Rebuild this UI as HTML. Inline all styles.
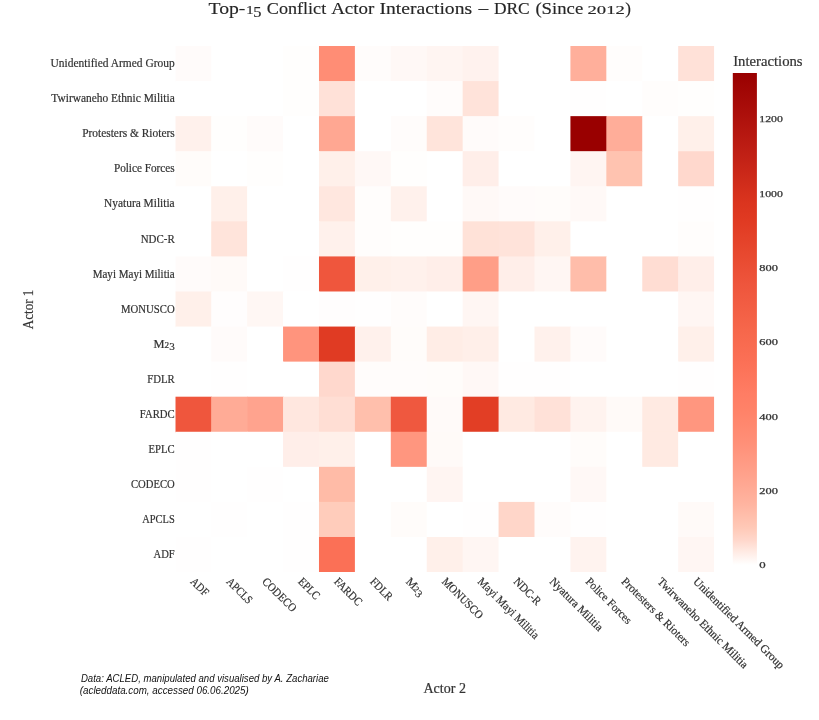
<!DOCTYPE html>
<html lang="en">
<head>
<meta charset="utf-8">
<title>Top-15 Conflict Actor Interactions - DRC</title>
<style>
html,body{margin:0;padding:0;background:#fff;}
body{width:819px;height:720px;overflow:hidden;font-family:"Liberation Serif",serif;}
svg{display:block;}
text{font-family:"Liberation Serif",serif;}
.note{font-family:"Liberation Sans",sans-serif;font-style:italic;}
</style>
</head>
<body>
<svg style="will-change:transform" width="819" height="720" viewBox="0 0 819 720">
<defs>
<linearGradient id="cb" x1="0" y1="1" x2="0" y2="0">
<stop offset="0" stop-color="#ffffff"/>
<stop offset="0.0264151" stop-color="#ffebe4"/>
<stop offset="0.050566" stop-color="#ffd7cb"/>
<stop offset="0.0754717" stop-color="#ffc9b7"/>
<stop offset="0.123774" stop-color="#ffb4a0"/>
<stop offset="0.188679" stop-color="#ffa08a"/>
<stop offset="0.25434" stop-color="#ff8e76"/>
<stop offset="0.314717" stop-color="#ff8268"/>
<stop offset="0.34717" stop-color="#ff7d64"/>
<stop offset="0.41283" stop-color="#fb7056"/>
<stop offset="0.477736" stop-color="#f6674b"/>
<stop offset="0.571321" stop-color="#ee553c"/>
<stop offset="0.636226" stop-color="#e7482e"/>
<stop offset="0.701132" stop-color="#e03a22"/>
<stop offset="0.739623" stop-color="#da341e"/>
<stop offset="0.843774" stop-color="#be1e14"/>
<stop offset="0.924528" stop-color="#aa0e0a"/>
<stop offset="1" stop-color="#990000"/>
</linearGradient>
</defs>
<rect x="0" y="0" width="819" height="720" fill="#ffffff"/>
<g fill="#262626" stroke="#262626" stroke-width="0.15">
<text x="208.5" y="13.9" font-size="17.6" textLength="36.9" lengthAdjust="spacingAndGlyphs">Top-</text>
<text x="246.2" y="13.9" font-size="12.6" textLength="7.3" lengthAdjust="spacingAndGlyphs">1</text>
<text x="253.2" y="16.8" font-size="15" textLength="8.2" lengthAdjust="spacingAndGlyphs">5</text>
<text x="266.8" y="13.9" font-size="17.6" textLength="59.4" lengthAdjust="spacingAndGlyphs">Conflict</text>
<text x="331.2" y="13.9" font-size="17.6" textLength="43.1" lengthAdjust="spacingAndGlyphs">Actor</text>
<text x="379.5" y="13.9" font-size="17.6" textLength="92.6" lengthAdjust="spacingAndGlyphs">Interactions</text>
<text x="478.4" y="13.9" font-size="18" textLength="9.8" lengthAdjust="spacingAndGlyphs">–</text>
<text x="493.9" y="13.9" font-size="17.6" textLength="35.8" lengthAdjust="spacingAndGlyphs">DRC</text>
<text x="535.4" y="13.9" font-size="17.6" textLength="47.8" lengthAdjust="spacingAndGlyphs">(Since</text>
<text x="587.5" y="13.9" font-size="12.2" textLength="37.4" lengthAdjust="spacingAndGlyphs">2012</text>
<text x="625.2" y="13.9" font-size="17.6" textLength="5.7" lengthAdjust="spacingAndGlyphs">)</text>
</g>
<clipPath id="gc"><rect x="175.30" y="46.00" width="538.80" height="526.05"/></clipPath>
<g clip-path="url(#gc)">
<rect x="175.30" y="46.00" width="36.52" height="35.67" fill="#fffbfa"/>
<rect x="211.22" y="46.00" width="36.52" height="35.67" fill="#ffffff"/>
<rect x="247.14" y="46.00" width="36.52" height="35.67" fill="#ffffff"/>
<rect x="283.06" y="46.00" width="36.52" height="35.67" fill="#fffefd"/>
<rect x="318.98" y="46.00" width="36.52" height="35.67" fill="#ff8d75"/>
<rect x="354.90" y="46.00" width="36.52" height="35.67" fill="#fffcfb"/>
<rect x="390.82" y="46.00" width="36.52" height="35.67" fill="#fff8f6"/>
<rect x="426.74" y="46.00" width="36.52" height="35.67" fill="#fff5f2"/>
<rect x="462.66" y="46.00" width="36.52" height="35.67" fill="#fff2ee"/>
<rect x="498.58" y="46.00" width="36.52" height="35.67" fill="#ffffff"/>
<rect x="534.50" y="46.00" width="36.52" height="35.67" fill="#ffffff"/>
<rect x="570.42" y="46.00" width="36.52" height="35.67" fill="#ffaf9b"/>
<rect x="606.34" y="46.00" width="36.52" height="35.67" fill="#fffdfc"/>
<rect x="642.26" y="46.00" width="36.52" height="35.67" fill="#ffffff"/>
<rect x="678.18" y="46.00" width="36.52" height="35.67" fill="#ffe1d8"/>
<rect x="175.30" y="81.07" width="36.52" height="35.67" fill="#ffffff"/>
<rect x="211.22" y="81.07" width="36.52" height="35.67" fill="#ffffff"/>
<rect x="247.14" y="81.07" width="36.52" height="35.67" fill="#ffffff"/>
<rect x="283.06" y="81.07" width="36.52" height="35.67" fill="#fffefd"/>
<rect x="318.98" y="81.07" width="36.52" height="35.67" fill="#ffe1d8"/>
<rect x="354.90" y="81.07" width="36.52" height="35.67" fill="#ffffff"/>
<rect x="390.82" y="81.07" width="36.52" height="35.67" fill="#ffffff"/>
<rect x="426.74" y="81.07" width="36.52" height="35.67" fill="#fffcfb"/>
<rect x="462.66" y="81.07" width="36.52" height="35.67" fill="#ffe3da"/>
<rect x="498.58" y="81.07" width="36.52" height="35.67" fill="#ffffff"/>
<rect x="534.50" y="81.07" width="36.52" height="35.67" fill="#ffffff"/>
<rect x="570.42" y="81.07" width="36.52" height="35.67" fill="#fffefe"/>
<rect x="606.34" y="81.07" width="36.52" height="35.67" fill="#ffffff"/>
<rect x="642.26" y="81.07" width="36.52" height="35.67" fill="#fffdfc"/>
<rect x="678.18" y="81.07" width="36.52" height="35.67" fill="#fffefd"/>
<rect x="175.30" y="116.14" width="36.52" height="35.67" fill="#fff1ec"/>
<rect x="211.22" y="116.14" width="36.52" height="35.67" fill="#fffefd"/>
<rect x="247.14" y="116.14" width="36.52" height="35.67" fill="#fffbfa"/>
<rect x="283.06" y="116.14" width="36.52" height="35.67" fill="#ffffff"/>
<rect x="318.98" y="116.14" width="36.52" height="35.67" fill="#ffa792"/>
<rect x="354.90" y="116.14" width="36.52" height="35.67" fill="#ffffff"/>
<rect x="390.82" y="116.14" width="36.52" height="35.67" fill="#fffcfb"/>
<rect x="426.74" y="116.14" width="36.52" height="35.67" fill="#ffe4db"/>
<rect x="462.66" y="116.14" width="36.52" height="35.67" fill="#fffbfa"/>
<rect x="498.58" y="116.14" width="36.52" height="35.67" fill="#fffdfc"/>
<rect x="534.50" y="116.14" width="36.52" height="35.67" fill="#ffffff"/>
<rect x="570.42" y="116.14" width="36.52" height="35.67" fill="#990000"/>
<rect x="606.34" y="116.14" width="36.52" height="35.67" fill="#ffad99"/>
<rect x="642.26" y="116.14" width="36.52" height="35.67" fill="#ffffff"/>
<rect x="678.18" y="116.14" width="36.52" height="35.67" fill="#fff0ea"/>
<rect x="175.30" y="151.21" width="36.52" height="35.67" fill="#fffcfa"/>
<rect x="211.22" y="151.21" width="36.52" height="35.67" fill="#ffffff"/>
<rect x="247.14" y="151.21" width="36.52" height="35.67" fill="#fffefd"/>
<rect x="283.06" y="151.21" width="36.52" height="35.67" fill="#ffffff"/>
<rect x="318.98" y="151.21" width="36.52" height="35.67" fill="#fff0ea"/>
<rect x="354.90" y="151.21" width="36.52" height="35.67" fill="#fff8f6"/>
<rect x="390.82" y="151.21" width="36.52" height="35.67" fill="#fffefd"/>
<rect x="426.74" y="151.21" width="36.52" height="35.67" fill="#ffffff"/>
<rect x="462.66" y="151.21" width="36.52" height="35.67" fill="#ffeee9"/>
<rect x="498.58" y="151.21" width="36.52" height="35.67" fill="#ffffff"/>
<rect x="534.50" y="151.21" width="36.52" height="35.67" fill="#ffffff"/>
<rect x="570.42" y="151.21" width="36.52" height="35.67" fill="#fff5f2"/>
<rect x="606.34" y="151.21" width="36.52" height="35.67" fill="#ffc3b0"/>
<rect x="642.26" y="151.21" width="36.52" height="35.67" fill="#ffffff"/>
<rect x="678.18" y="151.21" width="36.52" height="35.67" fill="#ffd8cd"/>
<rect x="175.30" y="186.28" width="36.52" height="35.67" fill="#ffffff"/>
<rect x="211.22" y="186.28" width="36.52" height="35.67" fill="#fff0ea"/>
<rect x="247.14" y="186.28" width="36.52" height="35.67" fill="#ffffff"/>
<rect x="283.06" y="186.28" width="36.52" height="35.67" fill="#ffffff"/>
<rect x="318.98" y="186.28" width="36.52" height="35.67" fill="#ffe7df"/>
<rect x="354.90" y="186.28" width="36.52" height="35.67" fill="#fffdfc"/>
<rect x="390.82" y="186.28" width="36.52" height="35.67" fill="#fff1ec"/>
<rect x="426.74" y="186.28" width="36.52" height="35.67" fill="#ffffff"/>
<rect x="462.66" y="186.28" width="36.52" height="35.67" fill="#fff9f7"/>
<rect x="498.58" y="186.28" width="36.52" height="35.67" fill="#fffbfa"/>
<rect x="534.50" y="186.28" width="36.52" height="35.67" fill="#fffcfa"/>
<rect x="570.42" y="186.28" width="36.52" height="35.67" fill="#fff9f7"/>
<rect x="606.34" y="186.28" width="36.52" height="35.67" fill="#ffffff"/>
<rect x="642.26" y="186.28" width="36.52" height="35.67" fill="#ffffff"/>
<rect x="678.18" y="186.28" width="36.52" height="35.67" fill="#fffefe"/>
<rect x="175.30" y="221.35" width="36.52" height="35.67" fill="#ffffff"/>
<rect x="211.22" y="221.35" width="36.52" height="35.67" fill="#ffe4db"/>
<rect x="247.14" y="221.35" width="36.52" height="35.67" fill="#ffffff"/>
<rect x="283.06" y="221.35" width="36.52" height="35.67" fill="#ffffff"/>
<rect x="318.98" y="221.35" width="36.52" height="35.67" fill="#fff1ec"/>
<rect x="354.90" y="221.35" width="36.52" height="35.67" fill="#fffdfc"/>
<rect x="390.82" y="221.35" width="36.52" height="35.67" fill="#fffefd"/>
<rect x="426.74" y="221.35" width="36.52" height="35.67" fill="#fffefd"/>
<rect x="462.66" y="221.35" width="36.52" height="35.67" fill="#ffe2d8"/>
<rect x="498.58" y="221.35" width="36.52" height="35.67" fill="#ffe3da"/>
<rect x="534.50" y="221.35" width="36.52" height="35.67" fill="#fff0ea"/>
<rect x="570.42" y="221.35" width="36.52" height="35.67" fill="#ffffff"/>
<rect x="606.34" y="221.35" width="36.52" height="35.67" fill="#ffffff"/>
<rect x="642.26" y="221.35" width="36.52" height="35.67" fill="#ffffff"/>
<rect x="678.18" y="221.35" width="36.52" height="35.67" fill="#fffdfc"/>
<rect x="175.30" y="256.42" width="36.52" height="35.67" fill="#fffbfa"/>
<rect x="211.22" y="256.42" width="36.52" height="35.67" fill="#fffaf8"/>
<rect x="247.14" y="256.42" width="36.52" height="35.67" fill="#ffffff"/>
<rect x="283.06" y="256.42" width="36.52" height="35.67" fill="#fffefe"/>
<rect x="318.98" y="256.42" width="36.52" height="35.67" fill="#ef563d"/>
<rect x="354.90" y="256.42" width="36.52" height="35.67" fill="#fff0ea"/>
<rect x="390.82" y="256.42" width="36.52" height="35.67" fill="#fff1ec"/>
<rect x="426.74" y="256.42" width="36.52" height="35.67" fill="#ffeee9"/>
<rect x="462.66" y="256.42" width="36.52" height="35.67" fill="#ff9e87"/>
<rect x="498.58" y="256.42" width="36.52" height="35.67" fill="#ffeee9"/>
<rect x="534.50" y="256.42" width="36.52" height="35.67" fill="#fff6f3"/>
<rect x="570.42" y="256.42" width="36.52" height="35.67" fill="#ffbdaa"/>
<rect x="606.34" y="256.42" width="36.52" height="35.67" fill="#ffffff"/>
<rect x="642.26" y="256.42" width="36.52" height="35.67" fill="#ffddd3"/>
<rect x="678.18" y="256.42" width="36.52" height="35.67" fill="#ffeee9"/>
<rect x="175.30" y="291.49" width="36.52" height="35.67" fill="#fff0ea"/>
<rect x="211.22" y="291.49" width="36.52" height="35.67" fill="#fffdfd"/>
<rect x="247.14" y="291.49" width="36.52" height="35.67" fill="#fff7f4"/>
<rect x="283.06" y="291.49" width="36.52" height="35.67" fill="#ffffff"/>
<rect x="318.98" y="291.49" width="36.52" height="35.67" fill="#fffdfd"/>
<rect x="354.90" y="291.49" width="36.52" height="35.67" fill="#fffefe"/>
<rect x="390.82" y="291.49" width="36.52" height="35.67" fill="#fffcfb"/>
<rect x="426.74" y="291.49" width="36.52" height="35.67" fill="#ffffff"/>
<rect x="462.66" y="291.49" width="36.52" height="35.67" fill="#fff6f3"/>
<rect x="498.58" y="291.49" width="36.52" height="35.67" fill="#ffffff"/>
<rect x="534.50" y="291.49" width="36.52" height="35.67" fill="#ffffff"/>
<rect x="570.42" y="291.49" width="36.52" height="35.67" fill="#ffffff"/>
<rect x="606.34" y="291.49" width="36.52" height="35.67" fill="#ffffff"/>
<rect x="642.26" y="291.49" width="36.52" height="35.67" fill="#ffffff"/>
<rect x="678.18" y="291.49" width="36.52" height="35.67" fill="#fff6f3"/>
<rect x="175.30" y="326.56" width="36.52" height="35.67" fill="#ffffff"/>
<rect x="211.22" y="326.56" width="36.52" height="35.67" fill="#fffbfa"/>
<rect x="247.14" y="326.56" width="36.52" height="35.67" fill="#ffffff"/>
<rect x="283.06" y="326.56" width="36.52" height="35.67" fill="#ff947d"/>
<rect x="318.98" y="326.56" width="36.52" height="35.67" fill="#e03b23"/>
<rect x="354.90" y="326.56" width="36.52" height="35.67" fill="#fff1ec"/>
<rect x="390.82" y="326.56" width="36.52" height="35.67" fill="#fffcfa"/>
<rect x="426.74" y="326.56" width="36.52" height="35.67" fill="#ffede6"/>
<rect x="462.66" y="326.56" width="36.52" height="35.67" fill="#ffefe9"/>
<rect x="498.58" y="326.56" width="36.52" height="35.67" fill="#ffffff"/>
<rect x="534.50" y="326.56" width="36.52" height="35.67" fill="#fff1ec"/>
<rect x="570.42" y="326.56" width="36.52" height="35.67" fill="#fffbfa"/>
<rect x="606.34" y="326.56" width="36.52" height="35.67" fill="#ffffff"/>
<rect x="642.26" y="326.56" width="36.52" height="35.67" fill="#ffffff"/>
<rect x="678.18" y="326.56" width="36.52" height="35.67" fill="#fff0ea"/>
<rect x="175.30" y="361.63" width="36.52" height="35.67" fill="#ffffff"/>
<rect x="211.22" y="361.63" width="36.52" height="35.67" fill="#fffefe"/>
<rect x="247.14" y="361.63" width="36.52" height="35.67" fill="#ffffff"/>
<rect x="283.06" y="361.63" width="36.52" height="35.67" fill="#ffffff"/>
<rect x="318.98" y="361.63" width="36.52" height="35.67" fill="#ffd8cd"/>
<rect x="354.90" y="361.63" width="36.52" height="35.67" fill="#fffcfb"/>
<rect x="390.82" y="361.63" width="36.52" height="35.67" fill="#fffcfb"/>
<rect x="426.74" y="361.63" width="36.52" height="35.67" fill="#fffcfa"/>
<rect x="462.66" y="361.63" width="36.52" height="35.67" fill="#fff8f6"/>
<rect x="498.58" y="361.63" width="36.52" height="35.67" fill="#fffefe"/>
<rect x="534.50" y="361.63" width="36.52" height="35.67" fill="#fffefe"/>
<rect x="570.42" y="361.63" width="36.52" height="35.67" fill="#ffffff"/>
<rect x="606.34" y="361.63" width="36.52" height="35.67" fill="#ffffff"/>
<rect x="642.26" y="361.63" width="36.52" height="35.67" fill="#ffffff"/>
<rect x="678.18" y="361.63" width="36.52" height="35.67" fill="#fffefe"/>
<rect x="175.30" y="396.70" width="36.52" height="35.67" fill="#ef563d"/>
<rect x="211.22" y="396.70" width="36.52" height="35.67" fill="#ffab96"/>
<rect x="247.14" y="396.70" width="36.52" height="35.67" fill="#ffa38e"/>
<rect x="283.06" y="396.70" width="36.52" height="35.67" fill="#ffe7df"/>
<rect x="318.98" y="396.70" width="36.52" height="35.67" fill="#ffded4"/>
<rect x="354.90" y="396.70" width="36.52" height="35.67" fill="#ffbfac"/>
<rect x="390.82" y="396.70" width="36.52" height="35.67" fill="#ef583f"/>
<rect x="426.74" y="396.70" width="36.52" height="35.67" fill="#fffaf9"/>
<rect x="462.66" y="396.70" width="36.52" height="35.67" fill="#e23e25"/>
<rect x="498.58" y="396.70" width="36.52" height="35.67" fill="#ffeae2"/>
<rect x="534.50" y="396.70" width="36.52" height="35.67" fill="#ffe1d8"/>
<rect x="570.42" y="396.70" width="36.52" height="35.67" fill="#fff3ef"/>
<rect x="606.34" y="396.70" width="36.52" height="35.67" fill="#fffaf8"/>
<rect x="642.26" y="396.70" width="36.52" height="35.67" fill="#ffeae2"/>
<rect x="678.18" y="396.70" width="36.52" height="35.67" fill="#ff967f"/>
<rect x="175.30" y="431.77" width="36.52" height="35.67" fill="#fffefe"/>
<rect x="211.22" y="431.77" width="36.52" height="35.67" fill="#ffffff"/>
<rect x="247.14" y="431.77" width="36.52" height="35.67" fill="#ffffff"/>
<rect x="283.06" y="431.77" width="36.52" height="35.67" fill="#ffeee9"/>
<rect x="318.98" y="431.77" width="36.52" height="35.67" fill="#fff0ea"/>
<rect x="354.90" y="431.77" width="36.52" height="35.67" fill="#ffffff"/>
<rect x="390.82" y="431.77" width="36.52" height="35.67" fill="#ff967f"/>
<rect x="426.74" y="431.77" width="36.52" height="35.67" fill="#fffaf8"/>
<rect x="462.66" y="431.77" width="36.52" height="35.67" fill="#ffffff"/>
<rect x="498.58" y="431.77" width="36.52" height="35.67" fill="#ffffff"/>
<rect x="534.50" y="431.77" width="36.52" height="35.67" fill="#ffffff"/>
<rect x="570.42" y="431.77" width="36.52" height="35.67" fill="#fffcfa"/>
<rect x="606.34" y="431.77" width="36.52" height="35.67" fill="#ffffff"/>
<rect x="642.26" y="431.77" width="36.52" height="35.67" fill="#ffeae2"/>
<rect x="678.18" y="431.77" width="36.52" height="35.67" fill="#ffffff"/>
<rect x="175.30" y="466.84" width="36.52" height="35.67" fill="#fffefe"/>
<rect x="211.22" y="466.84" width="36.52" height="35.67" fill="#ffffff"/>
<rect x="247.14" y="466.84" width="36.52" height="35.67" fill="#fffefe"/>
<rect x="283.06" y="466.84" width="36.52" height="35.67" fill="#ffffff"/>
<rect x="318.98" y="466.84" width="36.52" height="35.67" fill="#ffbba7"/>
<rect x="354.90" y="466.84" width="36.52" height="35.67" fill="#ffffff"/>
<rect x="390.82" y="466.84" width="36.52" height="35.67" fill="#ffffff"/>
<rect x="426.74" y="466.84" width="36.52" height="35.67" fill="#fff5f2"/>
<rect x="462.66" y="466.84" width="36.52" height="35.67" fill="#ffffff"/>
<rect x="498.58" y="466.84" width="36.52" height="35.67" fill="#ffffff"/>
<rect x="534.50" y="466.84" width="36.52" height="35.67" fill="#ffffff"/>
<rect x="570.42" y="466.84" width="36.52" height="35.67" fill="#fff8f6"/>
<rect x="606.34" y="466.84" width="36.52" height="35.67" fill="#ffffff"/>
<rect x="642.26" y="466.84" width="36.52" height="35.67" fill="#ffffff"/>
<rect x="678.18" y="466.84" width="36.52" height="35.67" fill="#ffffff"/>
<rect x="175.30" y="501.91" width="36.52" height="35.67" fill="#ffffff"/>
<rect x="211.22" y="501.91" width="36.52" height="35.67" fill="#fffefe"/>
<rect x="247.14" y="501.91" width="36.52" height="35.67" fill="#ffffff"/>
<rect x="283.06" y="501.91" width="36.52" height="35.67" fill="#fffefe"/>
<rect x="318.98" y="501.91" width="36.52" height="35.67" fill="#ffccbb"/>
<rect x="354.90" y="501.91" width="36.52" height="35.67" fill="#ffffff"/>
<rect x="390.82" y="501.91" width="36.52" height="35.67" fill="#fffcfa"/>
<rect x="426.74" y="501.91" width="36.52" height="35.67" fill="#ffffff"/>
<rect x="462.66" y="501.91" width="36.52" height="35.67" fill="#fffefe"/>
<rect x="498.58" y="501.91" width="36.52" height="35.67" fill="#ffd6c9"/>
<rect x="534.50" y="501.91" width="36.52" height="35.67" fill="#fffcfb"/>
<rect x="570.42" y="501.91" width="36.52" height="35.67" fill="#fffefe"/>
<rect x="606.34" y="501.91" width="36.52" height="35.67" fill="#ffffff"/>
<rect x="642.26" y="501.91" width="36.52" height="35.67" fill="#ffffff"/>
<rect x="678.18" y="501.91" width="36.52" height="35.67" fill="#fffaf8"/>
<rect x="175.30" y="536.98" width="36.52" height="35.67" fill="#fffefe"/>
<rect x="211.22" y="536.98" width="36.52" height="35.67" fill="#ffffff"/>
<rect x="247.14" y="536.98" width="36.52" height="35.67" fill="#ffffff"/>
<rect x="283.06" y="536.98" width="36.52" height="35.67" fill="#fffefe"/>
<rect x="318.98" y="536.98" width="36.52" height="35.67" fill="#fb7056"/>
<rect x="354.90" y="536.98" width="36.52" height="35.67" fill="#ffffff"/>
<rect x="390.82" y="536.98" width="36.52" height="35.67" fill="#ffffff"/>
<rect x="426.74" y="536.98" width="36.52" height="35.67" fill="#fff0ea"/>
<rect x="462.66" y="536.98" width="36.52" height="35.67" fill="#fff6f3"/>
<rect x="498.58" y="536.98" width="36.52" height="35.67" fill="#ffffff"/>
<rect x="534.50" y="536.98" width="36.52" height="35.67" fill="#ffffff"/>
<rect x="570.42" y="536.98" width="36.52" height="35.67" fill="#fff3ef"/>
<rect x="606.34" y="536.98" width="36.52" height="35.67" fill="#ffffff"/>
<rect x="642.26" y="536.98" width="36.52" height="35.67" fill="#ffffff"/>
<rect x="678.18" y="536.98" width="36.52" height="35.67" fill="#fff6f3"/>
</g>
<g font-size="11.7" fill="#333" stroke="#333" stroke-width="0.2" text-anchor="end">
<text x="174.7" y="67.1" textLength="124.1" lengthAdjust="spacingAndGlyphs">Unidentified Armed Group</text>
<text x="174.7" y="102.2" textLength="123.4" lengthAdjust="spacingAndGlyphs">Twirwaneho Ethnic Militia</text>
<text x="174.7" y="137.3" textLength="92.5" lengthAdjust="spacingAndGlyphs">Protesters &amp; Rioters</text>
<text x="174.7" y="172.3" textLength="60.8" lengthAdjust="spacingAndGlyphs">Police Forces</text>
<text x="174.7" y="207.4" textLength="70.7" lengthAdjust="spacingAndGlyphs">Nyatura Militia</text>
<text x="174.7" y="242.5" textLength="34.0" lengthAdjust="spacingAndGlyphs">NDC-R</text>
<text x="174.7" y="277.6" textLength="82.0" lengthAdjust="spacingAndGlyphs">Mayi Mayi Militia</text>
<text x="174.7" y="312.6" textLength="53.6" lengthAdjust="spacingAndGlyphs">MONUSCO</text>
<text x="174.7" y="347.7" textLength="21.2" lengthAdjust="spacingAndGlyphs">M<tspan font-size="8.6">2</tspan><tspan font-size="10.4" dy="2.1">3</tspan></text>
<text x="174.7" y="382.8" textLength="27.4" lengthAdjust="spacingAndGlyphs">FDLR</text>
<text x="174.7" y="417.8" textLength="34.9" lengthAdjust="spacingAndGlyphs">FARDC</text>
<text x="174.7" y="452.9" textLength="26.2" lengthAdjust="spacingAndGlyphs">EPLC</text>
<text x="174.7" y="488.0" textLength="43.7" lengthAdjust="spacingAndGlyphs">CODECO</text>
<text x="174.7" y="523.0" textLength="32.4" lengthAdjust="spacingAndGlyphs">APCLS</text>
<text x="174.7" y="558.1" textLength="21.2" lengthAdjust="spacingAndGlyphs">ADF</text>
</g>
<g font-size="11.7" fill="#333" stroke="#333" stroke-width="0.2">
<text transform="translate(189.8,582.2) rotate(45)" textLength="20.5" lengthAdjust="spacingAndGlyphs">ADF</text>
<text transform="translate(225.7,582.2) rotate(45)" textLength="31.7" lengthAdjust="spacingAndGlyphs">APCLS</text>
<text transform="translate(261.6,582.2) rotate(45)" textLength="43.0" lengthAdjust="spacingAndGlyphs">CODECO</text>
<text transform="translate(297.5,582.2) rotate(45)" textLength="25.5" lengthAdjust="spacingAndGlyphs">EPLC</text>
<text transform="translate(333.4,582.2) rotate(45)" textLength="34.2" lengthAdjust="spacingAndGlyphs">FARDC</text>
<text transform="translate(369.4,582.2) rotate(45)" textLength="26.7" lengthAdjust="spacingAndGlyphs">FDLR</text>
<text transform="translate(405.3,582.2) rotate(45)" textLength="20.5" lengthAdjust="spacingAndGlyphs">M<tspan font-size="8.6">2</tspan><tspan font-size="10.4" dy="2.1">3</tspan></text>
<text transform="translate(441.2,582.2) rotate(45)" textLength="52.9" lengthAdjust="spacingAndGlyphs">MONUSCO</text>
<text transform="translate(477.1,582.2) rotate(45)" textLength="81.3" lengthAdjust="spacingAndGlyphs">Mayi Mayi Militia</text>
<text transform="translate(513.0,582.2) rotate(45)" textLength="33.3" lengthAdjust="spacingAndGlyphs">NDC-R</text>
<text transform="translate(549.0,582.2) rotate(45)" textLength="70.0" lengthAdjust="spacingAndGlyphs">Nyatura Militia</text>
<text transform="translate(584.9,582.2) rotate(45)" textLength="60.1" lengthAdjust="spacingAndGlyphs">Police Forces</text>
<text transform="translate(620.8,582.2) rotate(45)" textLength="91.8" lengthAdjust="spacingAndGlyphs">Protesters &amp; Rioters</text>
<text transform="translate(656.7,582.2) rotate(45)" textLength="122.7" lengthAdjust="spacingAndGlyphs">Twirwaneho Ethnic Militia</text>
<text transform="translate(692.6,582.2) rotate(45)" textLength="123.4" lengthAdjust="spacingAndGlyphs">Unidentified Armed Group</text>
</g>
<text x="444.7" y="692.8" font-size="14.2" fill="#333" stroke="#333" stroke-width="0.2" text-anchor="middle" textLength="42.5" lengthAdjust="spacingAndGlyphs">Actor 2</text>
<text transform="translate(32.6,309.4) rotate(-90)" font-size="14.2" fill="#333" stroke="#333" stroke-width="0.2" text-anchor="middle" textLength="39.6" lengthAdjust="spacingAndGlyphs">Actor 1</text>
<rect x="732.8" y="73" width="24.1" height="492" fill="url(#cb)"/>
<text x="733.2" y="66" font-size="13.8" fill="#333" stroke="#333" stroke-width="0.2" textLength="69.4" lengthAdjust="spacingAndGlyphs">Interactions</text>
<g font-size="8.6" fill="#333" stroke="#333" stroke-width="0.25">
<text x="759.3" y="568.0" textLength="6.4" lengthAdjust="spacingAndGlyphs">0</text>
<text x="759.3" y="493.7" textLength="18.6" lengthAdjust="spacingAndGlyphs">200</text>
<text x="759.3" y="419.5" textLength="18.6" lengthAdjust="spacingAndGlyphs">400</text>
<text x="759.3" y="345.2" textLength="18.6" lengthAdjust="spacingAndGlyphs">600</text>
<text x="759.3" y="271.0" textLength="18.6" lengthAdjust="spacingAndGlyphs">800</text>
<text x="759.3" y="196.7" textLength="23.6" lengthAdjust="spacingAndGlyphs">1000</text>
<text x="759.3" y="122.4" textLength="23.6" lengthAdjust="spacingAndGlyphs">1200</text>
</g>
<g class="note" font-size="10" fill="#111">
<text class="note" x="80.9" y="681.5" textLength="248" lengthAdjust="spacingAndGlyphs">Data: ACLED, manipulated and visualised by A. Zachariae</text>
<text class="note" x="79.8" y="693.7" textLength="169" lengthAdjust="spacingAndGlyphs">(acleddata.com, accessed 06.06.2025)</text>
</g>
</svg>
</body>
</html>
